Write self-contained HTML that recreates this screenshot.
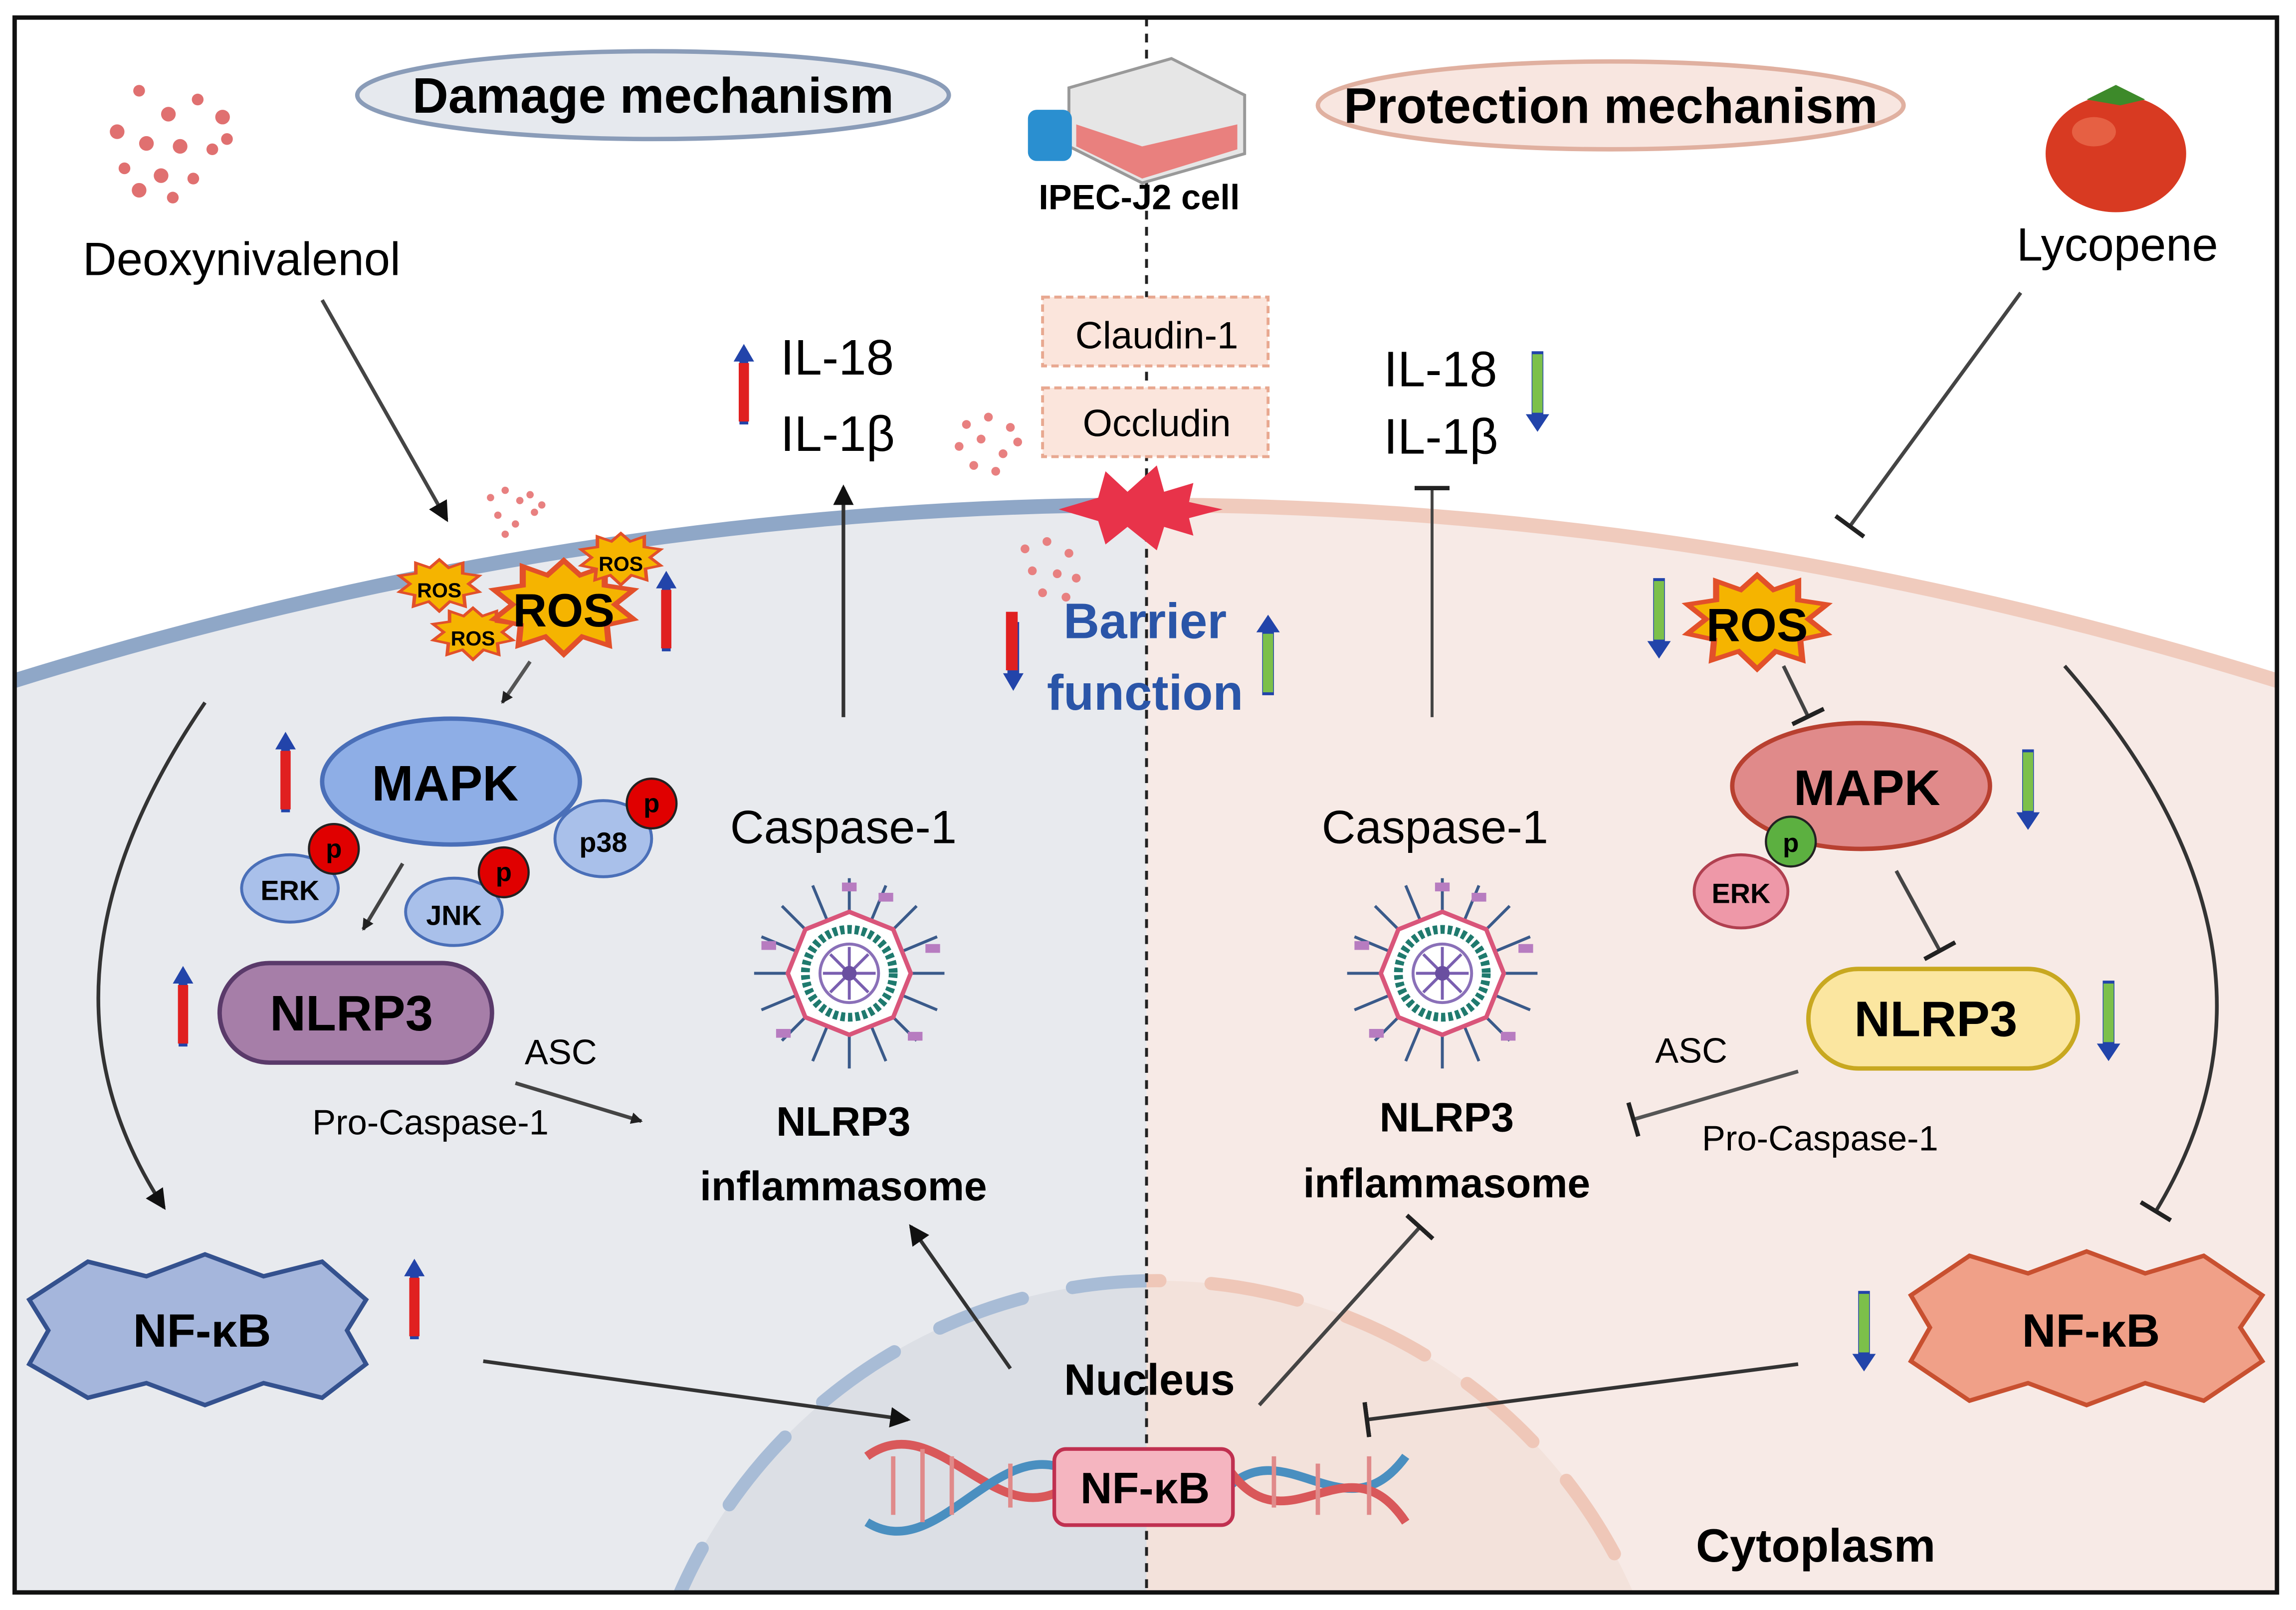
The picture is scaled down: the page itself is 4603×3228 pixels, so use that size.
<!DOCTYPE html>
<html><head><meta charset="utf-8"><style>
html,body{margin:0;padding:0;background:#fff;overflow:hidden;width:4603px;height:3228px;position:relative}
svg{display:block;position:absolute;left:0;top:0;overflow:hidden}
text{font-family:"Liberation Sans",sans-serif}
</style></head><body>
<svg width="4603" height="3228" viewBox="0 0 1568 1100" preserveAspectRatio="none" xmlns="http://www.w3.org/2000/svg">
<defs>
<clipPath id="L"><rect x="0" y="0" width="783" height="1100"/></clipPath>
<clipPath id="R"><rect x="783" y="0" width="800" height="1100"/></clipPath>
<clipPath id="box"><rect x="10" y="12" width="1545" height="1076"/></clipPath>
<marker id="ah" markerWidth="8" markerHeight="8" refX="7" refY="4" orient="auto" markerUnits="userSpaceOnUse"><path d="M0,0 L8,4 L0,8 Z" fill="#222"/></marker>
<marker id="ahb" markerWidth="14" markerHeight="14" refX="12" refY="7" orient="auto" markerUnits="userSpaceOnUse"><path d="M0,0 L14,7 L0,14 Z" fill="#111"/></marker>
<marker id="tb" markerWidth="4" markerHeight="24" refX="2" refY="12" orient="auto" markerUnits="userSpaceOnUse"><rect x="0" y="0" width="3" height="24" fill="#222"/></marker>
<g id="inf">
 <g stroke="#3a5a8a" stroke-width="2">
  <line x1="0" y1="-65" x2="0" y2="65"/><line x1="-65" y1="0" x2="65" y2="0"/>
  <line x1="-46" y1="-46" x2="46" y2="46"/><line x1="-46" y1="46" x2="46" y2="-46"/>
  <line x1="-25" y1="-60" x2="25" y2="60"/><line x1="-60" y1="-25" x2="60" y2="25"/>
  <line x1="-25" y1="60" x2="25" y2="-60"/><line x1="-60" y1="25" x2="60" y2="-25"/>
 </g>
 <polygon points="0,-42 30,-30 42,0 30,30 0,42 -30,30 -42,0 -30,-30" fill="#fff" stroke="#d9557a" stroke-width="3"/>
 <circle r="30" fill="none" stroke="#1f7a6e" stroke-width="6" stroke-dasharray="3 2"/>
 <circle r="20" fill="#fff" stroke="#8a70b8" stroke-width="2"/>
 <g stroke="#7a5fb0" stroke-width="2"><line x1="-18" y1="0" x2="18" y2="0"/><line x1="0" y1="-18" x2="0" y2="18"/><line x1="-13" y1="-13" x2="13" y2="13"/><line x1="-13" y1="13" x2="13" y2="-13"/></g>
 <circle r="5" fill="#6a4fa0"/>
 <g fill="#b77cc0"><rect x="-5" y="-62" width="10" height="6"/><rect x="52" y="-20" width="10" height="6"/><rect x="40" y="40" width="10" height="6"/><rect x="-50" y="38" width="10" height="6"/><rect x="-60" y="-22" width="10" height="6"/><rect x="20" y="-55" width="10" height="6"/></g>
</g>
<g id="ros"><polygon points="0,-32 8,-22 20,-28 20,-15 34,-12 25,-2 34,8 21,12 22,26 9,20 0,32 -9,20 -22,26 -21,12 -34,8 -25,-2 -34,-12 -20,-15 -20,-28 -8,-22" fill="#f5b400" stroke="#e2502a" stroke-width="3"/></g>
</defs>

<rect x="0" y="0" width="1568" height="1100" fill="#fff"/>
<g clip-path="url(#box)">
 <path d="M10,465 Q783,225 1555,465 L1555,1100 L10,1100 Z" fill="#e8eaee" clip-path="url(#L)"/>
 <path d="M10,465 Q783,225 1555,465 L1555,1100 L10,1100 Z" fill="#f7eae6" clip-path="url(#R)"/>
 <circle cx="790" cy="1230" r="355" fill="#dcdfe5" clip-path="url(#L)"/>
 <circle cx="790" cy="1230" r="355" fill="#f3e2db" clip-path="url(#R)"/>
 <circle cx="790" cy="1230" r="355" fill="none" stroke="#a8bcd6" stroke-width="9" stroke-dasharray="60 35" stroke-linecap="round" clip-path="url(#L)"/>
 <circle cx="790" cy="1230" r="355" fill="none" stroke="#efc7b8" stroke-width="9" stroke-dasharray="60 35" stroke-linecap="round" clip-path="url(#R)"/>
 <path d="M10,465 Q783,225 1555,465" fill="none" stroke="#8fa7c7" stroke-width="10" clip-path="url(#L)"/>
 <path d="M10,465 Q783,225 1555,465" fill="none" stroke="#f0cbbd" stroke-width="10" clip-path="url(#R)"/>
</g>
<line x1="783" y1="12" x2="783" y2="1088" stroke="#222" stroke-width="2" stroke-dasharray="6 5"/>
<rect x="10" y="12" width="1545" height="1076" fill="none" stroke="#111" stroke-width="3"/>

<ellipse cx="446" cy="65" rx="202" ry="30" fill="#e6e9ee" stroke="#8a9cb8" stroke-width="3"/>
<text x="446" y="77" font-size="34" font-weight="bold" text-anchor="middle">Damage mechanism</text>
<ellipse cx="1100" cy="72" rx="200" ry="30" fill="#f8e6e0" stroke="#e0b0a0" stroke-width="3"/>
<text x="1100" y="84" font-size="34" font-weight="bold" text-anchor="middle">Protection mechanism</text>

<g transform="translate(700,40)">
 <polygon points="30,20 100,0 150,25 150,65 80,85 30,60" fill="#e6e6e6" stroke="#999" stroke-width="2"/>
 <polygon points="35,45 80,60 145,45 145,62 80,82 35,60" fill="#e9807e"/>
 <rect x="2" y="35" width="30" height="35" rx="6" fill="#2a8fd0"/>
</g>
<text x="778" y="143" font-size="24" font-weight="bold" text-anchor="middle">IPEC-J2 cell</text>

<ellipse cx="1445" cy="105" rx="48" ry="40" fill="#d83a22"/>
<ellipse cx="1430" cy="90" rx="15" ry="10" fill="#f07a5a" opacity="0.6"/>
<path d="M1425,68 L1445,58 L1465,68 L1448,72 Z" fill="#3d8a2a"/>
<text x="1446" y="178" font-size="32" text-anchor="middle">Lycopene</text>

<g fill="#e07070">
<circle cx="95" cy="62" r="4"/><circle cx="115" cy="78" r="5"/><circle cx="135" cy="68" r="4"/><circle cx="152" cy="80" r="5"/><circle cx="80" cy="90" r="5"/><circle cx="100" cy="98" r="5"/><circle cx="123" cy="100" r="5"/><circle cx="145" cy="102" r="4"/><circle cx="85" cy="115" r="4"/><circle cx="110" cy="120" r="5"/><circle cx="132" cy="122" r="4"/><circle cx="118" cy="135" r="4"/><circle cx="95" cy="130" r="5"/><circle cx="155" cy="95" r="4"/>
</g>
<text x="165" y="188" font-size="32" text-anchor="middle">Deoxynivalenol</text>
<line x1="220" y1="205" x2="305" y2="355" stroke="#444" stroke-width="2.5" marker-end="url(#ahb)"/>
<g fill="#e88080">
<circle cx="335" cy="340" r="2.5"/><circle cx="345" cy="335" r="2.5"/><circle cx="355" cy="342" r="2.5"/><circle cx="365" cy="350" r="2.5"/><circle cx="340" cy="352" r="2.5"/><circle cx="352" cy="358" r="2.5"/><circle cx="362" cy="338" r="2.5"/><circle cx="345" cy="365" r="2.5"/><circle cx="370" cy="345" r="2.5"/>
<circle cx="660" cy="290" r="3"/><circle cx="675" cy="285" r="3"/><circle cx="690" cy="292" r="3"/><circle cx="655" cy="305" r="3"/><circle cx="670" cy="300" r="3"/><circle cx="685" cy="310" r="3"/><circle cx="665" cy="318" r="3"/><circle cx="680" cy="322" r="3"/><circle cx="695" cy="302" r="3"/>
<circle cx="700" cy="375" r="3"/><circle cx="715" cy="370" r="3"/><circle cx="730" cy="378" r="3"/><circle cx="705" cy="390" r="3"/><circle cx="722" cy="392" r="3"/><circle cx="735" cy="395" r="3"/><circle cx="712" cy="405" r="3"/><circle cx="728" cy="408" r="3"/>
</g>

<use href="#ros" transform="translate(300,400) scale(0.8,0.55)"/>
<text x="300" y="408" font-size="14" font-weight="bold" text-anchor="middle">ROS</text>
<use href="#ros" transform="translate(323,433) scale(0.8,0.55)"/>
<text x="323" y="441" font-size="14" font-weight="bold" text-anchor="middle">ROS</text>
<use href="#ros" transform="translate(385,415) scale(1.4,1)"/>
<use href="#ros" transform="translate(424,382) scale(0.8,0.55)"/>
<text x="424" y="390" font-size="14" font-weight="bold" text-anchor="middle">ROS</text>
<text x="385" y="428" font-size="32" font-weight="bold" text-anchor="middle">ROS</text>

<g id="uparr">
<polygon points="455,390 448,402 452,402 452,445 458,445 458,402 462,402" fill="#2244aa"/>
<rect x="451.5" y="403" width="7" height="40" fill="#e02020"/>
</g>
<use href="#uparr" transform="translate(-260,110)"/>
<use href="#uparr" transform="translate(-330,270)"/>
<use href="#uparr" transform="translate(-172,470)"/>
<use href="#uparr" transform="translate(53,-155)"/>

<line x1="362" y1="452" x2="343" y2="480" stroke="#555" stroke-width="2.5" marker-end="url(#ah)"/>

<ellipse cx="308" cy="534" rx="88" ry="43" fill="#8eaee6" stroke="#4a6fb8" stroke-width="3"/>
<text x="304" y="547" font-size="34" font-weight="bold" text-anchor="middle">MAPK</text>
<ellipse cx="198" cy="607" rx="33" ry="23" fill="#a9c0ea" stroke="#4a6fb8" stroke-width="2"/>
<text x="198" y="615" font-size="19" font-weight="bold" text-anchor="middle">ERK</text>
<ellipse cx="310" cy="623" rx="33" ry="23" fill="#a9c0ea" stroke="#4a6fb8" stroke-width="2"/>
<text x="310" y="632" font-size="19" font-weight="bold" text-anchor="middle">JNK</text>
<ellipse cx="412" cy="573" rx="33" ry="26" fill="#a9c0ea" stroke="#4a6fb8" stroke-width="2"/>
<text x="412" y="582" font-size="19" font-weight="bold" text-anchor="middle">p38</text>
<g font-size="18" font-weight="bold" text-anchor="middle">
<circle cx="228" cy="580" r="17" fill="#e00000" stroke="#222" stroke-width="1.5"/><text x="228" y="586">p</text>
<circle cx="344" cy="596" r="17" fill="#e00000" stroke="#222" stroke-width="1.5"/><text x="344" y="602">p</text>
<circle cx="445" cy="549" r="17" fill="#e00000" stroke="#222" stroke-width="1.5"/><text x="445" y="555">p</text>
</g>
<line x1="275" y1="590" x2="248" y2="635" stroke="#444" stroke-width="2.5" marker-end="url(#ah)"/>

<rect x="150" y="658" width="186" height="68" rx="34" fill="#a67ea8" stroke="#5a3a6a" stroke-width="3"/>
<text x="240" y="704" font-size="34" font-weight="bold" text-anchor="middle">NLRP3</text>
<text x="383" y="727" font-size="24" text-anchor="middle">ASC</text>
<text x="294" y="775" font-size="24" text-anchor="middle">Pro-Caspase-1</text>
<line x1="352" y1="740" x2="438" y2="766" stroke="#444" stroke-width="2.5" marker-end="url(#ah)"/>

<text x="576" y="576" font-size="32" text-anchor="middle">Caspase-1</text>
<use href="#inf" transform="translate(580,665)"/>
<text x="576" y="776" font-size="28" font-weight="bold" text-anchor="middle">NLRP3</text>
<text x="576" y="820" font-size="28" font-weight="bold" text-anchor="middle">inflammasome</text>
<line x1="576" y1="490" x2="576" y2="333" stroke="#333" stroke-width="2.5" marker-end="url(#ahb)"/>
<text x="533" y="256" font-size="34">IL-18</text>
<text x="533" y="308" font-size="34">IL-1β</text>

<path d="M140,480 Q10,670 112,825" fill="none" stroke="#333" stroke-width="2.5" marker-end="url(#ahb)"/>
<polygon points="60,862 100,872 140,857 180,872 220,862 250,888 237,909 250,932 220,955 180,945 140,960 100,945 60,955 20,932 33,909 20,888" fill="#a5b6dc" stroke="#34518e" stroke-width="3"/>
<text x="138" y="920" font-size="32" font-weight="bold" text-anchor="middle">NF-κB</text>
<line x1="330" y1="930" x2="620" y2="970" stroke="#333" stroke-width="2.5" marker-end="url(#ahb)"/>
<line x1="690" y1="935" x2="622" y2="838" stroke="#333" stroke-width="2.5" marker-end="url(#ahb)"/>

<rect x="712" y="203" width="154" height="47" fill="#fbe5dc" stroke="#e8a890" stroke-width="2" stroke-dasharray="5 3"/>
<text x="790" y="238" font-size="26" text-anchor="middle">Claudin-1</text>
<rect x="712" y="265" width="154" height="47" fill="#fbe5dc" stroke="#e8a890" stroke-width="2" stroke-dasharray="5 3"/>
<text x="790" y="298" font-size="26" text-anchor="middle">Occludin</text>
<polygon points="723,348 750,340 755,322 770,336 790,318 795,336 815,330 812,343 835,348 812,354 815,366 795,360 790,376 770,360 755,372 750,356" fill="#e8334a"/>
<polygon points="692,418 685,430 688,430 688,465 696,465 696,430 699,430" fill="#2244aa" transform="rotate(180 692 445)"/>
<rect x="687" y="418" width="8" height="40" fill="#e02020"/>
<text x="782" y="436" font-size="34" font-weight="bold" fill="#2a55a8" text-anchor="middle">Barrier</text>
<text x="782" y="485" font-size="34" font-weight="bold" fill="#2a55a8" text-anchor="middle">function</text>
<g><polygon points="866,420 858,432 862,432 862,475 870,475 870,432 874,432" fill="#2244aa"/><rect x="862.5" y="433" width="7" height="40" fill="#7cc04a"/></g>

<g fill="none" stroke-width="6">
<path d="M592,995 C640,960 680,1050 730,1015" stroke="#d9585a"/>
<path d="M592,1040 C640,1070 680,980 730,1005" stroke="#4a8fc0"/>
<path d="M840,1015 C880,980 920,1050 960,995" stroke="#4a8fc0"/>
<path d="M840,1005 C880,1060 920,980 960,1040" stroke="#d9585a"/>
</g>
<g stroke="#e08a8a" stroke-width="3"><line x1="610" y1="995" x2="610" y2="1035"/><line x1="630" y1="990" x2="630" y2="1040"/><line x1="650" y1="995" x2="650" y2="1035"/><line x1="690" y1="1000" x2="690" y2="1030"/><line x1="870" y1="995" x2="870" y2="1030"/><line x1="900" y1="1000" x2="900" y2="1035"/><line x1="935" y1="995" x2="935" y2="1035"/></g>
<rect x="720" y="990" width="122" height="52" rx="8" fill="#f5b5c0" stroke="#c03050" stroke-width="2.5"/>
<text x="782" y="1027" font-size="30" font-weight="bold" text-anchor="middle">NF-κB</text>
<text x="785" y="953" font-size="30" font-weight="bold" text-anchor="middle">Nucleus</text>
<text x="1240" y="1067" font-size="32" font-weight="bold" text-anchor="middle">Cytoplasm</text>

<text x="945" y="264" font-size="34">IL-18</text>
<text x="945" y="310" font-size="34">IL-1β</text>
<g id="gdn"><polygon points="1050,295 1042,283 1046,283 1046,240 1054,240 1054,283 1058,283" fill="#2244aa"/><rect x="1046.5" y="242" width="7" height="40" fill="#7cc04a"/></g>
<use href="#gdn" transform="translate(83,155)"/>
<use href="#gdn" transform="translate(335,272)"/>
<use href="#gdn" transform="translate(390,430)"/>
<use href="#gdn" transform="translate(223,642)"/>
<line x1="978" y1="490" x2="978" y2="333" stroke="#444" stroke-width="2" marker-end="url(#tb)"/>
<line x1="1380" y1="200" x2="1263" y2="360" stroke="#444" stroke-width="2.5" marker-end="url(#tb)"/>

<use href="#ros" transform="translate(1200,425) scale(1.4,1)"/>
<text x="1200" y="438" font-size="32" font-weight="bold" text-anchor="middle">ROS</text>
<line x1="1218" y1="455" x2="1235" y2="490" stroke="#444" stroke-width="2.5" marker-end="url(#tb)"/>

<ellipse cx="1271" cy="537" rx="88" ry="43" fill="#e08a8a" stroke="#b84030" stroke-width="3"/>
<text x="1275" y="550" font-size="34" font-weight="bold" text-anchor="middle">MAPK</text>
<ellipse cx="1189" cy="609" rx="32" ry="25" fill="#ee98a8" stroke="#b04050" stroke-width="2"/>
<text x="1189" y="617" font-size="19" font-weight="bold" text-anchor="middle">ERK</text>
<circle cx="1223" cy="575" r="17" fill="#5cb040" stroke="#222" stroke-width="1.5"/>
<text x="1223" y="582" font-size="18" font-weight="bold" text-anchor="middle">p</text>
<line x1="1295" y1="595" x2="1325" y2="650" stroke="#444" stroke-width="2.5" marker-end="url(#tb)"/>

<rect x="1235" y="662" width="184" height="68" rx="34" fill="#fbe6a0" stroke="#c8a820" stroke-width="3"/>
<text x="1322" y="708" font-size="34" font-weight="bold" text-anchor="middle">NLRP3</text>
<text x="1155" y="726" font-size="24" text-anchor="middle">ASC</text>
<text x="1243" y="786" font-size="24" text-anchor="middle">Pro-Caspase-1</text>
<line x1="1228" y1="732" x2="1115" y2="765" stroke="#555" stroke-width="2.5" marker-end="url(#tb)"/>

<text x="980" y="576" font-size="32" text-anchor="middle">Caspase-1</text>
<use href="#inf" transform="translate(985,665)"/>
<text x="988" y="773" font-size="28" font-weight="bold" text-anchor="middle">NLRP3</text>
<text x="988" y="818" font-size="28" font-weight="bold" text-anchor="middle">inflammasome</text>
<line x1="860" y1="960" x2="970" y2="838" stroke="#444" stroke-width="2.5" marker-end="url(#tb)"/>

<path d="M1410,455 Q1580,650 1472,828" fill="none" stroke="#333" stroke-width="2.5" marker-end="url(#tb)"/>
<polygon points="1345,858 1385,870 1425,855 1465,870 1505,858 1545,885 1530,907 1545,930 1505,957 1465,945 1425,960 1385,945 1345,957 1305,930 1318,907 1305,885" fill="#f0a088" stroke="#c85030" stroke-width="3"/>
<text x="1428" y="920" font-size="32" font-weight="bold" text-anchor="middle">NF-κB</text>
<line x1="1228" y1="932" x2="933" y2="970" stroke="#333" stroke-width="2.5" marker-end="url(#tb)"/>
</svg>
</body></html>
